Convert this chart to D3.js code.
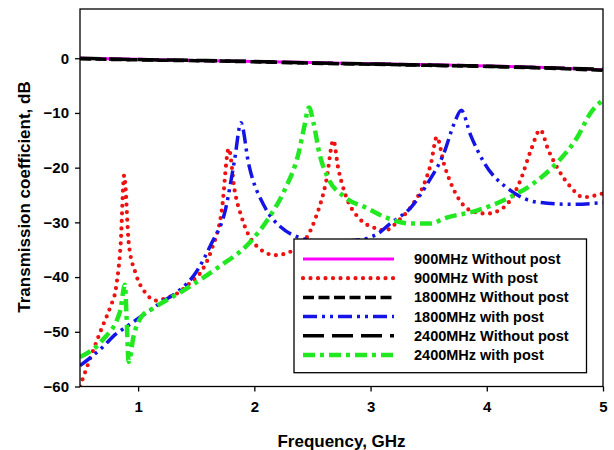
<!DOCTYPE html>
<html>
<head>
<meta charset="utf-8">
<script src="https://cdn.jsdelivr.net/npm/d3@7"></script>
<style>
  body { margin: 0; background: #fff; }
  svg text { font-family: "Liberation Sans", Arial, sans-serif; font-weight: bold; }
</style>
</head>
<body>
<svg id="chart" width="614" height="450"></svg>
<script>
// data, frequency in GHz and transmission in dB
var seriesNames = ["900MHz Without post", "900MHz With post", "1800MHz Without post",
                   "1800MHz with post", "2400MHz Without post", "2400MHz with post"];

var f900without = [0.5, 1, 1.5, 2, 2.5, 3, 3.5, 4, 4.5, 5];
var db900without = [0, -0.2, -0.4, -0.6, -0.8, -1.0, -1.2, -1.4, -1.7, -2.1];

var f900with = [0.5, 0.58, 0.69, 0.76, 0.81, 0.85, 0.88, 0.92, 0.98, 1.06, 1.16, 1.23, 1.35, 1.45,
                1.55, 1.63, 1.72, 1.78, 1.83, 1.89, 2.0, 2.18, 2.38, 2.52, 2.62, 2.68, 2.72, 2.78,
                2.89, 3.06, 3.12, 3.25, 3.37, 3.47, 3.52, 3.57, 3.63, 3.75, 3.89, 4.0, 4.15, 4.29,
                4.38, 4.46, 4.53, 4.62, 4.72, 4.83, 5.0];
var db900with = [-60, -55.3, -49.2, -45.5, -41.9, -33.9, -21.4, -33.9, -39.4, -42.8, -44.3, -43.9,
                 -42.8, -41, -38.8, -35.1, -27.8, -16.5, -24.1, -29, -33.9, -36, -34.5, -29.6,
                 -22.3, -15, -19.9, -24.7, -29, -31.2, -31.5, -29.5, -26.5, -22.5, -19.2, -14.4,
                 -19.2, -25.4, -28.1, -28.4, -27.2, -22.3, -16.8, -13.1, -16.8, -20.5, -23.5,
                 -25.4, -24.7];

var f1800without = [0.5, 1, 1.5, 2, 2.5, 3, 3.5, 4, 4.5, 5];
var db1800without = [-0.1, -0.3, -0.45, -0.65, -0.9, -1.1, -1.3, -1.5, -1.8, -2.2];

var f1800with = [0.5, 0.69, 0.81, 0.89, 1.06, 1.2, 1.35, 1.49, 1.63, 1.75, 1.83, 1.885, 1.95,
                 2.09, 2.23, 2.38, 2.6, 2.86, 3.06, 3.17, 3.35, 3.49, 3.63, 3.72, 3.78, 3.86,
                 3.98, 4.2, 4.43, 4.72, 5.0];
var db1800with = [-56.2, -52.9, -50.4, -49.2, -46.7, -44.6, -42.5, -39.4, -33.9, -27.8, -18.6,
                  -11.8, -19.2, -27.2, -30.9, -32.7, -33.5, -33.3, -32.1, -30.2, -27.2, -22.9,
                  -17.4, -11.9, -9.5, -14, -19.2, -24.1, -26.3, -26.7, -26.4];

var f2400without = [0.5, 1, 1.5, 2, 2.5, 3, 3.5, 4, 4.5, 5];
var db2400without = [0, -0.25, -0.4, -0.6, -0.85, -1.05, -1.25, -1.45, -1.75, -2.0];

var f2400with = [0.5, 0.69, 0.844, 0.887, 0.9, 0.919, 0.96, 1.03, 1.13, 1.41, 1.69, 1.95, 2.13,
                 2.26, 2.38, 2.43, 2.47, 2.51, 2.56, 2.63, 2.78, 2.98, 3.12, 3.35, 3.52, 3.63,
                 3.92, 4.2, 4.4, 4.6, 4.78, 4.89, 5.0];
var db2400with = [-54.6, -51.6, -46.3, -41.4, -47, -55.5, -50.9, -47.2, -45.7, -42.2, -38.2,
                  -33.9, -29, -24.1, -17.4, -12.5, -9, -11.9, -17.4, -21.7, -25.4, -27.5, -29,
                  -30.2, -30.2, -29.3, -27.8, -25.4, -22.9, -19.2, -14.4, -10.1, -7.6];

var xTicks = [1, 2, 3, 4, 5];
var yTicks = [0, -10, -20, -30, -40, -50, -60];

// styles, same order as seriesNames
var styles = [
    { color: "#ff00ff", width: 3, dash: null, cap: "butt" },
    { color: "#ee1111", width: 4.2, dash: "0 7.5", cap: "round" },
    { color: "#000000", width: 3.5, dash: "11 4.5", cap: "butt" },
    { color: "#1414e6", width: 3.5, dash: "14 5 3 5 3 5", cap: "butt" },
    { color: "#000000", width: 3.5, dash: "21 8", cap: "butt" },
    { color: "#22e822", width: 4.5, dash: "12 5 4 5", cap: "butt" }
];

var allF = [f900without, f900with, f1800without, f1800with, f2400without, f2400with];
var allDb = [db900without, db900with, db1800without, db1800with, db2400without, db2400with];

var svg = d3.select("#chart");
var mLeft = 80, mRight = 603, mTop = 9, mBottom = 386.5;

var x = d3.scaleLinear().domain([0.5, 5]).range([mLeft, mRight]);
var y = d3.scaleLinear().domain([-60, 9]).range([mBottom, mTop]);

var line = d3.line()
    .x(function (d) { return x(d[0]); })
    .y(function (d) { return y(d[1]); })
    .curve(d3.curveMonotoneX);

var plot = svg.append("g");
plot.append("clipPath").attr("id", "clip")
    .append("rect").attr("x", mLeft).attr("y", mTop)
    .attr("width", mRight - mLeft).attr("height", mBottom - mTop);

var lines = plot.append("g").attr("clip-path", "url(#clip)");
allF.forEach(function (fs, i) {
    var pts = fs.map(function (f, j) { return [f, allDb[i][j]]; });
    var st = styles[i];
    lines.append("path")
        .attr("d", line(pts))
        .attr("fill", "none")
        .attr("stroke", st.color)
        .attr("stroke-width", st.width)
        .attr("stroke-dasharray", st.dash)
        .attr("stroke-linecap", st.cap);
});

// axes
var xAxis = d3.axisBottom(x).tickValues(xTicks).tickSize(5).tickPadding(6).tickFormat(d3.format("d"));
var yAxis = d3.axisLeft(y).tickValues(yTicks).tickSize(5).tickPadding(6).tickFormat(d3.format("d"));

var gx = svg.append("g").attr("transform", "translate(0," + mBottom + ")").call(xAxis);
var gy = svg.append("g").attr("transform", "translate(" + mLeft + ",0)").call(yAxis);
[gx, gy].forEach(function (g) {
    g.select(".domain").remove();
    g.selectAll(".tick line").attr("stroke", "#000").attr("stroke-width", 1.3);
    g.selectAll(".tick text").attr("fill", "#000").style("font-size", "15px");
});
gx.selectAll(".tick text").attr("dy", "0.95em");

// frame
svg.append("rect")
    .attr("x", mLeft).attr("y", mTop)
    .attr("width", mRight - mLeft).attr("height", mBottom - mTop)
    .attr("fill", "none").attr("stroke", "#000").attr("stroke-width", 1.3);

// titles
svg.append("text")
    .attr("x", (mLeft + mRight) / 2).attr("y", 447)
    .attr("text-anchor", "middle")
    .style("font-size", "17px")
    .text("Frequency, GHz");

svg.append("text")
    .attr("transform", "translate(30,197) rotate(-90)")
    .attr("text-anchor", "middle")
    .style("font-size", "17px")
    .text("Transmission coefficient, dB");

// legend
var lg = svg.append("g");
lg.append("rect")
    .attr("x", 294).attr("y", 239).attr("width", 292.5).attr("height", 133.7)
    .attr("fill", "#fff").attr("stroke", "#000").attr("stroke-width", 1.3);

seriesNames.forEach(function (name, i) {
    var yy = 259 + i * 19.2;
    var st = styles[i];
    lg.append("line")
        .attr("x1", 303).attr("x2", 394).attr("y1", yy).attr("y2", yy)
        .attr("stroke", st.color)
        .attr("stroke-width", st.width)
        .attr("stroke-dasharray", st.dash)
        .attr("stroke-linecap", st.cap);
    lg.append("text")
        .attr("x", 414).attr("y", yy + 5)
        .style("font-size", "14.5px")
        .text(name);
});
</script>
</body>
</html>
